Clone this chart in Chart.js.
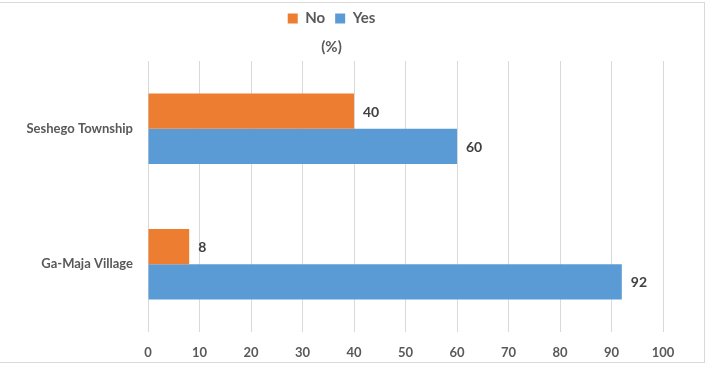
<!DOCTYPE html>
<html>
<head>
<meta charset="utf-8">
<script src="https://cdn.jsdelivr.net/npm/chart.js@4"></script>
<style>
  html, body { margin: 0; padding: 0; background: #fff; }
  #wrap { position: relative; width: 710px; height: 369px; }
  #frame { position: absolute; left: -2px; top: 2px; width: 707px; height: 361px; border: 1px solid #d9d9d9; box-sizing: border-box; }
  canvas { position: absolute; left: 0; top: 0; }
</style>
</head>
<body>
<div id="wrap">
  <div id="frame"></div>
  <canvas id="chart" width="710" height="369"></canvas>
</div>
<script>
const categories = ['Seshego Township', 'Ga-Maja Village'];
const noValues = [40, 8];
const yesValues = [60, 92];
const xTicks = [0, 10, 20, 30, 40, 50, 60, 70, 80, 90, 100];

const fontFamily = 'Lato, "Open Sans", sans-serif';
const textColor = '#595959';

// draws the value next to the end of each bar
const valueLabels = {
    id: 'valueLabels',
    afterDatasetsDraw(chart) {
        const ctx = chart.ctx;
        ctx.save();
        ctx.font = 'bold 14px ' + fontFamily;
        ctx.fillStyle = '#404040';
        ctx.textBaseline = 'middle';
        ctx.textAlign = 'left';
        chart.data.datasets.forEach((ds, i) => {
            chart.getDatasetMeta(i).data.forEach((bar, j) => {
                ctx.fillText(ds.data[j], bar.x + 9, bar.y + 1);
            });
        });
        ctx.restore();
    }
};

new Chart(document.getElementById('chart').getContext('2d'), {
    type: 'bar',
    data: {
        labels: categories,
        datasets: [
            { label: 'No', data: noValues, backgroundColor: '#ED7D31' },
            { label: 'Yes', data: yesValues, backgroundColor: '#5B9BD5' }
        ]
    },
    options: {
        indexAxis: 'y',
        responsive: false,
        animation: false,
        categoryPercentage: 0.52,
        barPercentage: 1,
        layout: { padding: { top: 1, right: 47, bottom: 5, left: 0 } },
        plugins: {
            legend: {
                position: 'top',
                labels: {
                    boxWidth: 10,
                    boxHeight: 10,
                    padding: 10,
                    color: textColor,
                    font: { family: fontFamily, size: 15, weight: 'bold' }
                }
            },
            title: {
                display: true,
                text: '(%)',
                weight: 500,
                color: textColor,
                font: { family: fontFamily, size: 15, weight: 'bold' },
                padding: { top: 2, bottom: 5 }
            },
            tooltip: { enabled: false }
        },
        scales: {
            x: {
                min: 0,
                max: 100,
                afterBuildTicks: (scale) => { scale.ticks = xTicks.map(v => ({ value: v })); },
                grid: { color: '#d9d9d9', drawTicks: false },
                border: { display: false },
                ticks: {
                    padding: 13,
                    color: textColor,
                    font: { family: fontFamily, size: 13, weight: 'bold' }
                },
                afterFit: (scale) => { scale.height = 32; }
            },
            y: {
                grid: { display: false, drawTicks: false },
                border: { display: false },
                ticks: {
                    padding: 15,
                    color: textColor,
                    font: { family: fontFamily, size: 13, weight: 'bold' }
                },
                afterFit: (scale) => { scale.width = 148; }
            }
        }
    },
    plugins: [valueLabels]
});
</script>
</body>
</html>
